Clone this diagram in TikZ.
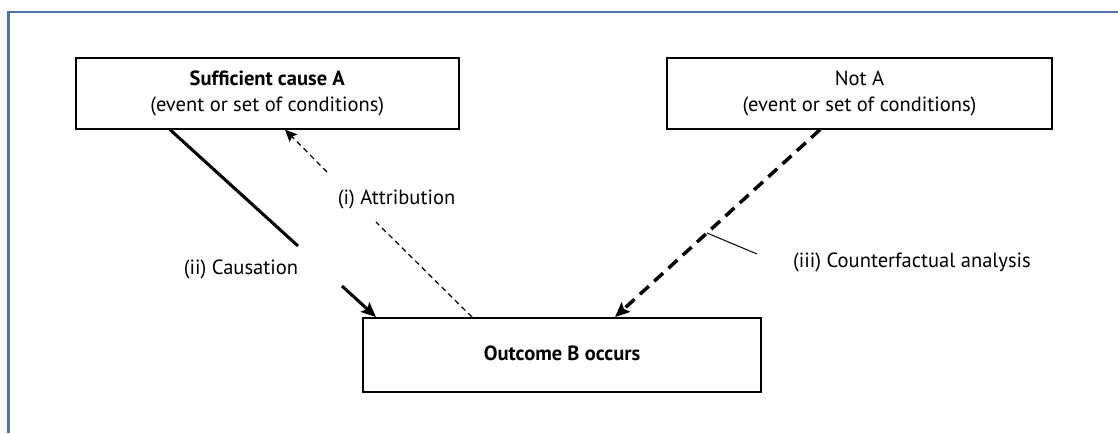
\documentclass[tikz,border=0pt]{standalone}
\usepackage{fontspec}
\setmainfont{PT Sans}
\usetikzlibrary{arrows.meta,calc}
\definecolor{framblue}{RGB}{74,118,168}
\tikzset{every picture/.style={line width=0.75pt}}
\tikzset{
  evbox/.style={draw, line width=1.4pt, fill=white, align=center, inner sep=0pt,
    minimum height=53.25pt, font=\fontsize{15.4}{19.5}\selectfont},
  lbl/.style={inner sep=0pt, font=\fontsize{15.4}{18}\selectfont},
  causeln/.style={line width=2.3pt},
  attrln/.style={line width=0.9pt, dash pattern=on 4pt off 3pt},
  cfln/.style={line width=2.6pt, dash pattern=on 9pt off 5.5pt}
}

\begin{document}
\begin{tikzpicture}[x=0.75pt,y=0.75pt,yscale=-1,xscale=1]
\useasboundingbox (0,0) rectangle (1118,433);

%Frame
\draw [framblue, line width=1.6pt] (1118,12.3) -- (8.5,12.3) -- (8.5,433) ;

%Boxes
\node [evbox, minimum width=287.5pt] (sca) at (267.3,93.2) {\textbf{Sufficient cause A}\\(event or set of conditions)};
\node [evbox, minimum width=288.75pt] (nota) at (859.5,93.2) {Not A\\(event or set of conditions)};
\node [evbox, minimum width=298.5pt, minimum height=55.5pt] (outb) at (562,355) {\raisebox{3pt}{\textbf{Outcome B occurs}}};

% Text Node
\node [lbl] (causlbl) at (241,269) {(ii) Causation};
% Text Node
\node [lbl] (attrlbl) at (396.5,199) {(i) Attribution};
% Text Node
\node [lbl] (cflbl) at (912,262) {(iii) Counterfactual analysis};

%Gap ends
\coordinate (cgapa) at (298,246);
\coordinate (cgapb) at (342,286);
\coordinate (agapa) at (327,172);
\coordinate (agapb) at (376,222);
\coordinate (cfknee) at (707,233);
\coordinate (cfend) at (757,254);

%(ii) causation
\draw [causeln] (sca.south -| 170,0) -- (cgapa) ;
\draw [causeln, -{Stealth[length=11pt, width=9.5pt, inset=2pt]}] (cgapb) -- (outb.north -| 376,0) ;
%(i) attribution
\draw [attrln] (outb.north -| 472,0) -- (agapb) ;
\draw [attrln, -{Stealth[length=9pt, width=8pt, inset=1.5pt]}] (agapa) -- (sca.south -| 285,0) ;
%(iii) counterfactual
\draw [cfln, -{Stealth[length=11pt, width=9.5pt, inset=2pt]}] (nota.south -| 820,0) -- (outb.north -| 615,0) ;
\draw (cfknee) -- (cfend) ;

\end{tikzpicture}
\end{document}
